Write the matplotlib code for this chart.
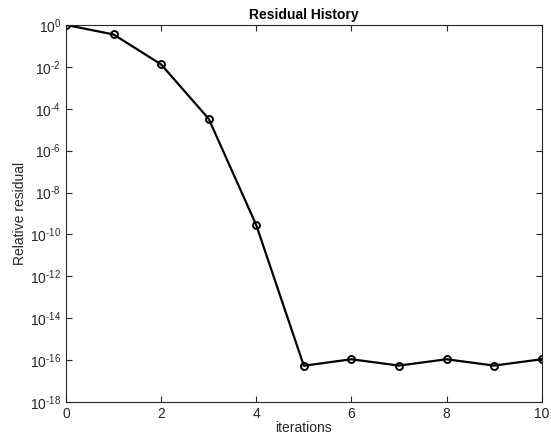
import matplotlib
matplotlib.use('Agg')
import matplotlib.pyplot as plt
from matplotlib.ticker import FixedLocator, NullLocator

plt.rcParams['font.family'] = ['Liberation Sans', 'DejaVu Sans']
plt.rcParams['axes.unicode_minus'] = False
plt.rcParams['mathtext.fontset'] = 'custom'
plt.rcParams['mathtext.rm'] = 'Liberation Sans'
plt.rcParams['mathtext.it'] = 'Liberation Sans'
plt.rcParams['mathtext.default'] = 'regular'

# residual history
iterations = [0, 1, 2, 3, 4, 5, 6, 7, 8, 9, 10]
relres = [1.0, 0.35, 0.013, 3.3e-5, 2.8e-10, 5.4e-17, 1.1e-16,
          5.5e-17, 1.1e-16, 5.5e-17, 1.1e-16]

xticks = [0, 2, 4, 6, 8, 10]
yexp = [-18, -16, -14, -12, -10, -8, -6, -4, -2, 0]


def exp_label(e):
    # MATLAB prints a plain hyphen in the exponent
    if e < 0:
        return r'$10^{\text{-%d}}$' % -e
    return r'$10^{%d}$' % e


fig = plt.figure(figsize=(5.51, 4.37), dpi=100)
ax = fig.add_axes([0.1198, 0.080, 0.8632, 0.863])

ax.semilogy(iterations, relres, '-o', color='black', linewidth=1.6,
            markersize=5, markerfacecolor='none', markeredgewidth=1.4)

ax.set_xlim(0, 10)
ax.set_ylim(1e-18, 1e0)
ax.set_xticks(xticks)
ax.yaxis.set_major_locator(FixedLocator([10.0 ** e for e in yexp]))
ax.yaxis.set_minor_locator(NullLocator())
ax.set_yticklabels([exp_label(e) for e in yexp])

dark = '#262626'
for s in ax.spines.values():
    s.set_color(dark)
    s.set_linewidth(0.8)
ax.tick_params(direction='in', top=True, right=True, length=4,
               width=0.8, colors=dark, labelsize=10)

ax.set_title('Residual History', fontsize=10, fontweight='bold', pad=4)
ax.set_xlabel('iterations', fontsize=10, color=dark, labelpad=0)
ax.set_ylabel('Relative residual', fontsize=10, color=dark, labelpad=2)

fig.savefig('out.png', dpi=100)
